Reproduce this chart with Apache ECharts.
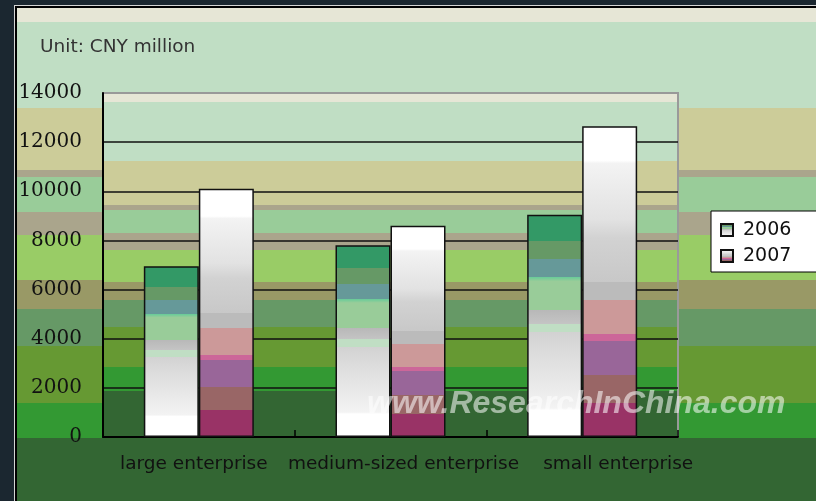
<!DOCTYPE html>
<html>
<head>
<meta charset="utf-8">
<script src="https://cdn.jsdelivr.net/npm/echarts@6/dist/echarts.min.js"></script>
<style>
html,body{margin:0;padding:0;background:#1b2730;width:816px;height:501px;overflow:hidden;}
#frame{position:absolute;left:14px;top:5px;right:0;bottom:0;border-left:1px solid #d4d4d4;border-top:1px solid #d4d4d4;}
#inner{position:absolute;left:0;top:0;right:0;bottom:0;border-left:2px solid #000;border-top:2px solid #000;
background:linear-gradient(to bottom,
#e6e6d6 0px,#e6e6d6 14px,
#c0dec4 14px,#c0dec4 100px,
#cccc99 100px,#cccc99 162px,
#aaa58c 162px,#aaa58c 169px,
#99cc99 169px,#99cc99 204px,
#aaa58c 204px,#aaa58c 227px,
#99cc66 227px,#99cc66 272px,
#999966 272px,#999966 301px,
#669966 301px,#669966 338px,
#669933 338px,#669933 395px,
#339933 395px,#339933 430px,
#336633 430px,#336633 100%);}
#chart{position:absolute;left:0;top:0;width:816px;height:501px;}
</style>
</head>
<body>
<div id="frame"><div id="inner"></div></div>
<div id="chart"></div>
<script>
// ---- data ----
const categories = ['large enterprise', 'medium-sized enterprise', 'small enterprise'];
const seriesNames = ['2006', '2007'];
const values2006 = [6950, 7800, 9050];
const values2007 = [10100, 8600, 12650];
const yMin = 0;
const yMax = 14000;
const yInterval = 2000;
const unitText = 'Unit: CNY million';
const watermark = 'www.ResearchInChina.com';

// ---- styles ----
function banded(stops) {
  const cs = [];
  stops.forEach(s => cs.push({offset: s[0], color: s[1]}));
  return new echarts.graphic.LinearGradient(0, 0, 0, 1, cs);
}
const plotBg = banded([
  [0, '#e6e6d6'], [0.029, '#e6e6d6'], [0.029, '#c0dec4'], [0.2, '#c0dec4'],
  [0.2, '#cccc99'], [0.326, '#cccc99'], [0.326, '#aaa58c'], [0.34, '#aaa58c'],
  [0.34, '#99cc99'], [0.407, '#99cc99'], [0.407, '#aaa58c'], [0.456, '#aaa58c'],
  [0.456, '#99cc66'], [0.549, '#99cc66'], [0.549, '#999966'], [0.602, '#999966'],
  [0.602, '#669966'], [0.68, '#669966'], [0.68, '#669933'], [0.794, '#669933'],
  [0.794, '#339933'], [0.863, '#339933'], [0.863, '#336633'], [1, '#336633']
]);
const fill2006 = banded([
  [0, '#339966'], [0.12, '#339966'], [0.12, '#669966'], [0.2, '#669966'],
  [0.2, '#669999'], [0.28, '#669999'], [0.28, '#66cc99'], [0.3, '#99cc99'],
  [0.43, '#99cc99'], [0.43, '#b8b8b8'], [0.49, '#c4c4c4'], [0.49, '#c0dec4'],
  [0.53, '#c0dec4'], [0.53, '#d2d2d2'], [0.62, '#dcdcdc'], [0.75, '#e8e8e8'],
  [0.87, '#f3f3f3'], [0.88, '#ffffff'], [1, '#ffffff']
]);
const fill2007 = banded([
  [0, '#ffffff'], [0.11, '#ffffff'], [0.12, '#f3f3f3'], [0.3, '#e2e2e2'],
  [0.36, '#d2d2d2'], [0.5, '#c8c8c8'], [0.5, '#bbbbbb'], [0.56, '#bbbbbb'],
  [0.56, '#cc9999'], [0.67, '#cc9999'], [0.67, '#cc6699'], [0.69, '#cc6699'],
  [0.69, '#996699'], [0.8, '#996699'], [0.8, '#996666'], [0.89, '#996666'],
  [0.89, '#993366'], [1, '#993366']
]);

const chart = echarts.init(document.getElementById('chart'), null, {renderer: 'canvas'});
const splitColors = [];
for (let v = yMin; v <= yMax; v += yInterval) splitColors.push(v === yMax ? '#999999' : '#111111');

chart.setOption({
  animation: false,
  backgroundColor: 'transparent',
  title: {
    text: unitText, left: 40, top: 38, padding: 0,
    textStyle: {fontFamily: 'DejaVu Sans', fontSize: 18.5, fontWeight: 'normal', color: '#333333'}
  },
  grid: {
    left: 103, top: 93, right: 138, bottom: 64,
    show: true, backgroundColor: plotBg, borderColor: '#9a9a9a', borderWidth: 2
  },
  legend: {
    orient: 'vertical', left: 711, top: 211,
    backgroundColor: '#ffffff', borderColor: '#000000', borderWidth: 1,
    padding: [9, 60, 6, 9], itemWidth: 12, itemHeight: 12, itemGap: 6,
    icon: 'rect',
    textStyle: {fontFamily: 'DejaVu Sans', fontSize: 19, color: '#111111', padding: [0, 0, 0, 5], lineHeight: 20},
    data: seriesNames
  },
  xAxis: {
    type: 'category', data: categories,
    axisLine: {lineStyle: {color: '#000000', width: 2}},
    axisTick: {show: true, inside: true, length: 7, lineStyle: {color: '#000000', width: 1.5}},
    axisLabel: {
      interval: 0, margin: 18, color: '#111111', fontFamily: 'DejaVu Sans', fontSize: 18,
      formatter: function (v, i) { return '{c' + i + '|' + v + '}'; },
      rich: {
        c0: {padding: [0, 10, 0, 0], fontFamily: 'DejaVu Sans', fontSize: 18.5, color: '#111111'},
        c1: {padding: [0, 0, 0, 26], fontFamily: 'DejaVu Sans', fontSize: 18.5, color: '#111111'},
        c2: {padding: [0, 0, 0, 72], fontFamily: 'DejaVu Sans', fontSize: 18.5, color: '#111111'}
      }
    }
  },
  yAxis: {
    type: 'value', min: yMin, max: yMax, interval: yInterval,
    axisLine: {show: true, lineStyle: {color: '#000000', width: 2}},
    axisTick: {show: false},
    axisLabel: {
      margin: 21, color: '#111111', fontFamily: 'DejaVu Serif', fontSize: 20,
      formatter: function (v) { return String(v); }
    },
    splitLine: {show: true, lineStyle: {color: splitColors, width: 1.5}}
  },
  series: [
    {
      name: seriesNames[0], type: 'bar', data: values2006, barWidth: 55, barGap: '0%',
      itemStyle: {color: fill2006, borderColor: '#111111', borderWidth: 1.5}
    },
    {
      name: seriesNames[1], type: 'bar', data: values2007, barWidth: 55, barGap: '0%',
      itemStyle: {color: fill2007, borderColor: '#111111', borderWidth: 1.5}
    }
  ],
  graphic: [{
    type: 'text', left: 367, top: 388, z: 100, silent: true,
    style: {
      text: watermark, fill: 'rgba(255,255,255,0.55)',
      font: 'italic bold 32px "Liberation Sans", Arial, sans-serif',
      shadowColor: 'rgba(0,0,0,0.35)', shadowBlur: 3, shadowOffsetX: 1, shadowOffsetY: 1
    }
  }]
});
</script>
</body>
</html>
